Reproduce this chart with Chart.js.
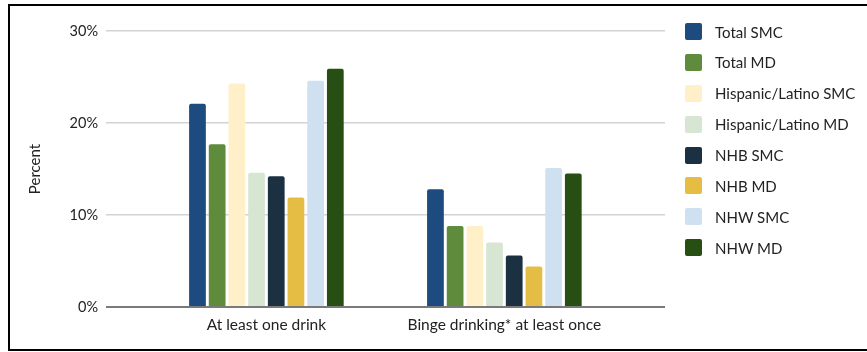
<!doctype html>
<html lang="en">
  <head>
    <meta charset="utf-8">
    <title>Alcohol use by group</title>
    <script src="https://cdn.jsdelivr.net/npm/chart.js"></script>
    <style>
      html, body {
        margin: 0;
        background: #fff;
        overflow: hidden;
      }
      .frame {
        position: absolute;
        left: 8px;
        top: 4px;
        width: 880px;
        height: 343px;
        border: 2px solid #000;
      }
      #drinkChart {
        position: absolute;
        left: 0;
        top: 0;
      }
      .legend {
        position: absolute;
        left: 685px;
        top: 23px;
        font-family: Lato, sans-serif;
        font-size: 15px;
        color: #222;
      }
      .legend-row {
        display: flex;
        align-items: center;
        height: 17px;
        margin-bottom: 13.9px;
        white-space: nowrap;
      }
      .legend-box {
        width: 17px;
        height: 17px;
        border-radius: 2px;
        margin-right: 13px;
      }
    </style>
  </head>
  <body>
    <div class="frame">
      <canvas id="drinkChart" width="857" height="343"></canvas>
    </div>
    <div class="legend" id="legend"></div>

    <script>
      // Categories and values (percent)
      const categories = ['At least one drink', 'Binge drinking* at least once'];
      const groups = ['Total SMC', 'Total MD', 'Hispanic/Latino SMC', 'Hispanic/Latino MD',
                      'NHB SMC', 'NHB MD', 'NHW SMC', 'NHW MD'];
      const totalSMC = [22.1, 12.8];
      const totalMD = [17.7, 8.8];
      const hispanicSMC = [24.3, 8.8];
      const hispanicMD = [14.6, 7.0];
      const nhbSMC = [14.2, 5.6];
      const nhbMD = [11.9, 4.4];
      const nhwSMC = [24.6, 15.1];
      const nhwMD = [25.9, 14.5];
      const yTicks = [0, 10, 20, 30];

      const seriesValues = [totalSMC, totalMD, hispanicSMC, hispanicMD, nhbSMC, nhbMD, nhwSMC, nhwMD];
      const colors = ['#1d4b80', '#5f8b3d', '#fff0c9', '#d7e5d3', '#1b3142', '#e6bd44', '#cfe0f1', '#274e13'];

      const datasets = groups.map((name, i) => ({
        label: name,
        data: seriesValues[i].map((v, j) => ({ x: j, y: v })),
        backgroundColor: colors[i],
        borderRadius: 2,
        categoryPercentage: 0.662,
        barPercentage: 0.85
      }));

      const font = { family: 'Lato, sans-serif', size: 15.5 };

      new Chart(document.getElementById('drinkChart'), {
        type: 'bar',
        data: { datasets },
        options: {
          responsive: false,
          animation: false,
          layout: { padding: { top: 25, right: 202, bottom: 0, left: 0 } },
          plugins: {
            legend: { display: false },
            tooltip: { enabled: false }
          },
          scales: {
            x: {
              type: 'linear',
              offset: false,
              min: -0.674,
              max: 1.675,
              grid: { display: false, drawTicks: false },
              border: { display: false },
              afterBuildTicks: (scale) => {
                scale.ticks = categories.map((c, i) => ({ value: i }));
              },
              afterFit: (scale) => { scale.height = 42; },
              ticks: {
                autoSkip: false,
                maxRotation: 0,
                padding: 9,
                color: '#222',
                font,
                callback: (v) => categories[v]
              }
            },
            y: {
              min: 0,
              max: 30,
              afterBuildTicks: (scale) => {
                scale.ticks = yTicks.map(v => ({ value: v }));
              },
              afterFit: (scale) => { scale.width = 96; },
              border: { display: false },
              grid: {
                drawTicks: false,
                color: (ctx) => ctx.tick && ctx.tick.value === 0 ? '#7a7a7a' : '#d3d3d3',
                lineWidth: (ctx) => ctx.tick && ctx.tick.value === 0 ? 2 : 1.5
              },
              ticks: {
                padding: 8,
                color: '#222',
                font: { family: 'Lato, sans-serif', size: 14.5 },
                callback: (v) => v + '%'
              },
              title: {
                display: true,
                text: 'Percent',
                color: '#222',
                font: { family: 'Lato, sans-serif', size: 15 },
                padding: { top: 16, bottom: 0 }
              }
            }
          }
        }
      });

      // Legend list on the right
      const legend = document.getElementById('legend');
      groups.forEach((name, i) => {
        const row = document.createElement('div');
        row.className = 'legend-row';
        row.innerHTML = `<span class="legend-box" style="background:${colors[i]}"></span><span>${name}</span>`;
        legend.appendChild(row);
      });
    </script>
  </body>
</html>
